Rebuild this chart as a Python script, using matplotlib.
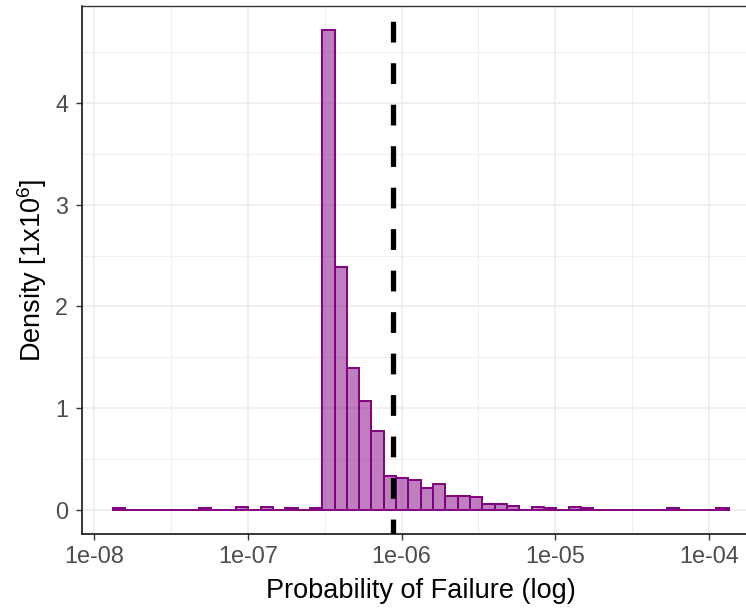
import numpy as np
import matplotlib
matplotlib.use("Agg")
import matplotlib.pyplot as plt

plt.rcParams['font.family'] = ['Liberation Sans', 'DejaVu Sans']
plt.rcParams['mathtext.fontset'] = 'custom'
plt.rcParams['mathtext.rm'] = 'Liberation Sans'
plt.rcParams['mathtext.it'] = 'Liberation Sans:italic'

# histogram of failure probabilities, 50 bins equal in log10
log_lo = -7.88
log_hi = -3.87
density = [
    0.017, 0, 0, 0, 0, 0, 0, 0.017, 0, 0,
    0.034, 0, 0.034, 0, 0.017, 0, 0.017, 4.717, 2.39, 1.40,
    1.07, 0.78, 0.337, 0.31, 0.29, 0.22, 0.255, 0.14, 0.14, 0.13,
    0.056, 0.056, 0.04, 0, 0.03, 0.015, 0, 0.03, 0.015, 0,
    0, 0, 0, 0, 0, 0.015, 0, 0, 0, 0.015,
]
mean_pof = 8.8e-7

x_ticks = [1e-8, 1e-7, 1e-6, 1e-5, 1e-4]
x_labels = ["1e-08", "1e-07", "1e-06", "1e-05", "1e-04"]
x_minor = [10 ** -7.5, 10 ** -6.5, 10 ** -5.5, 10 ** -4.5]
y_ticks = [0, 1, 2, 3, 4]
y_minor = [0.5, 1.5, 2.5, 3.5, 4.5]

edges = np.logspace(log_lo, log_hi, len(density) + 1)

W, H = 746, 608
fig = plt.figure(figsize=(W / 100, H / 100), dpi=100, facecolor='white')

# ggplot-like 5% expansion
xr = log_hi - log_lo
xlim = (10 ** (log_lo - 0.05 * xr), 10 ** (log_hi + 0.05 * xr))
ymax = max(density)
ylim = (-0.05 * ymax, 1.05 * ymax)

# panel runs past the right edge of the picture (cropped like the original)
ax = fig.add_axes([82 / W, 74 / H, 677.5 / W, 528 / H])
ax.set_xscale('log')
ax.set_xlim(xlim)
ax.set_ylim(ylim)
ax.set_axisbelow(True)

ax.bar(edges[:-1], density, width=np.diff(edges), align='edge',
       color='purple', alpha=0.5, linewidth=0)
ax.bar(edges[:-1], density, width=np.diff(edges), align='edge',
       facecolor='none', edgecolor='purple', linewidth=1.4)

ax.axvline(mean_pof, color='black', linewidth=3.8,
           linestyle=(1.1, (3.93, 3.93)))

ax.set_xticks(x_ticks)
ax.set_xticklabels(x_labels)
ax.set_xticks(x_minor, minor=True)
ax.set_yticks(y_ticks)
ax.set_yticks(y_minor, minor=True)
ax.grid(True, which='major', color='#EBEBEB', linewidth=1.1)
ax.grid(True, which='minor', color='#EBEBEB', linewidth=0.55)

ax.tick_params(axis='both', which='major', labelsize=16.8, labelcolor='#4D4D4D',
               color='#333333', length=4.5, width=1.0)
ax.tick_params(axis='y', which='major', pad=5.5)
ax.tick_params(axis='x', which='major', pad=3.5)
ax.tick_params(axis='both', which='minor', length=0)

for side in ['left', 'bottom']:
    ax.spines[side].set_color('black')
    ax.spines[side].set_linewidth(1.1)
ax.spines['top'].set_color('#333333')
ax.spines['top'].set_linewidth(1.0)
ax.spines['right'].set_visible(False)

ax.set_xlabel("Probability of Failure (log)", fontsize=19.5, color='black', labelpad=7)
ax.set_ylabel("Density [1x10$^6$]", fontsize=19.5, color='black', labelpad=4)

fig.savefig("out.png", dpi=100, facecolor='white')
